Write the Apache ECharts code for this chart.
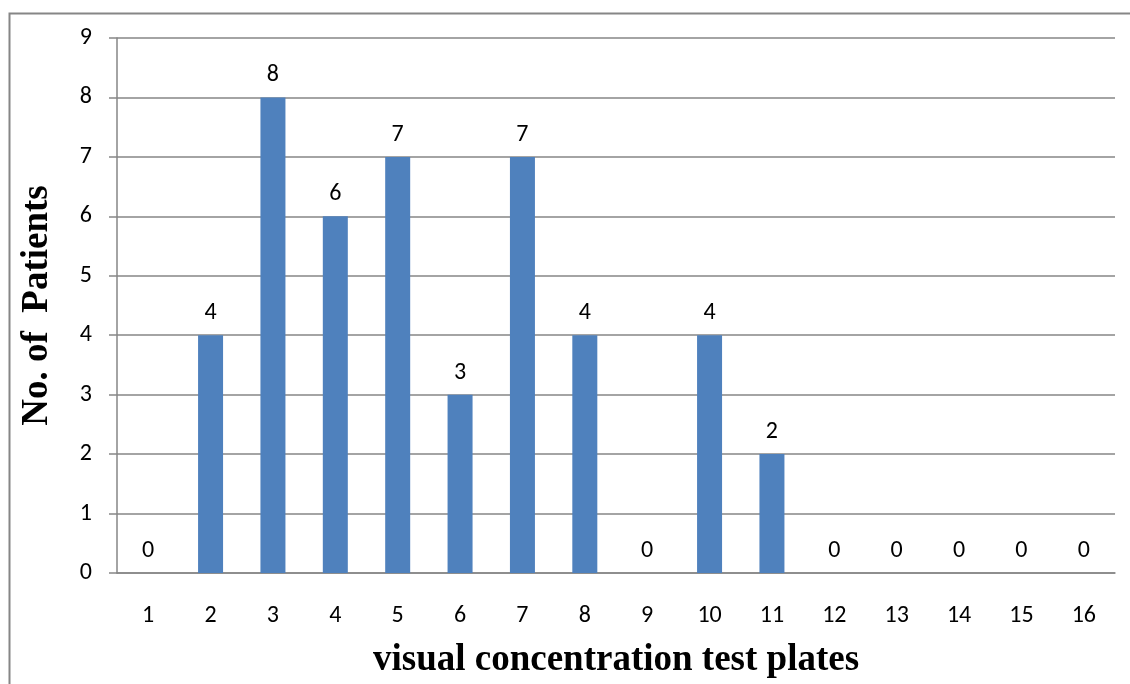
<!DOCTYPE html>
<html>
<head>
<meta charset="utf-8">
<script src="https://cdn.jsdelivr.net/npm/echarts@6/dist/echarts.min.js"></script>
<style>
  html, body { margin: 0; padding: 0; background: #fff; }
  #chart { width: 1130px; height: 684px; }
</style>
</head>
<body>
<div id="chart"></div>
<script>
// plate numbers on the x axis
const plates = ['1', '2', '3', '4', '5', '6', '7', '8', '9', '10', '11', '12', '13', '14', '15', '16']
// number of patients per plate
const patients = [0, 4, 8, 6, 7, 3, 7, 4, 0, 4, 2, 0, 0, 0, 0, 0]

const chart = echarts.init(document.getElementById('chart'))
const labelFont = 'Carlito, "Open Sans", "Noto Sans", sans-serif'
const titleFont = '"Liberation Serif", "DejaVu Serif", serif'

const option = {
  animation: false,
  graphic: [
    { // outer frame of the chart area
      type: 'rect',
      shape: { x: 9.5, y: 13.5, width: 1300, height: 900 },
      style: { fill: 'none', stroke: '#868686', lineWidth: 2 },
      silent: true
    }
  ],
  grid: { left: 117, right: 15, top: 38, bottom: 107, containLabel: false },
  xAxis: {
    type: 'category',
    data: plates,
    name: 'visual concentration test plates',
    nameLocation: 'middle',
    nameGap: 69,
    nameTextStyle: { fontFamily: titleFont, fontWeight: 'bold', fontSize: 37, color: '#000' },
    axisLine: { lineStyle: { color: '#868686', width: 1.5 } },
    axisTick: { show: false },
    axisLabel: { color: '#000', fontSize: 24, fontFamily: labelFont, margin: 31 }
  },
  yAxis: {
    type: 'value',
    min: 0,
    max: 9,
    interval: 1,
    name: 'No. of  Patients',
    nameLocation: 'middle',
    nameGap: 61,
    nameTextStyle: { fontFamily: titleFont, fontWeight: 'bold', fontSize: 37, color: '#000' },
    axisLine: { show: true, lineStyle: { color: '#868686', width: 1.5 } },
    axisTick: { show: true, length: 8, lineStyle: { color: '#868686', width: 1.5 } },
    axisLabel: { color: '#000', fontSize: 24, fontFamily: labelFont, margin: 25 },
    splitLine: { lineStyle: { color: '#868686', width: 1.5 } }
  },
  series: [
    {
      type: 'bar',
      data: patients,
      barWidth: 25,
      itemStyle: { color: '#4F81BD' },
      label: {
        show: true,
        position: 'top',
        distance: 10,
        color: '#000',
        fontSize: 24,
        fontFamily: labelFont
      }
    }
  ]
}

chart.setOption(option)
</script>
</body>
</html>
